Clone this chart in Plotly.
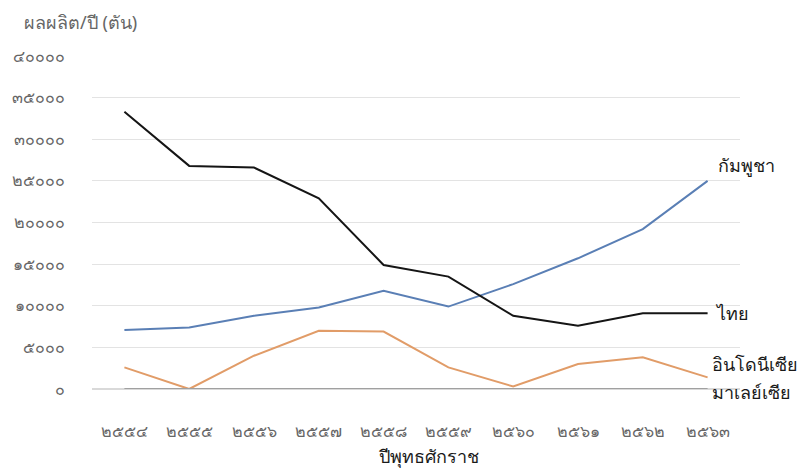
import plotly.graph_objects as go

years = ["๒๕๕๔", "๒๕๕๕", "๒๕๕๖", "๒๕๕๗", "๒๕๕๘", "๒๕๕๙", "๒๕๖๐", "๒๕๖๑", "๒๕๖๒", "๒๕๖๓"]
cambodia = [7100, 7400, 8800, 9800, 11800, 9900, 12600, 15700, 19200, 25000]
thailand = [33300, 26800, 26600, 22900, 14900, 13500, 8800, 7600, 9100, 9100]
indonesia = [2600, 0, 4000, 7000, 6900, 2600, 300, 3000, 3800, 1400]
malaysia = [0, 0, 0, 0, 0, 0, 0, 0, 0, 0]
series_names = ["กัมพูชา", "ไทย", "อินโดนีเซีย", "มาเลย์เซีย"]
y_ticks = [0, 5000, 10000, 15000, 20000, 25000, 30000, 35000, 40000]
y_ticktext = ["๐", "๕๐๐๐", "๑๐๐๐๐", "๑๕๐๐๐", "๒๐๐๐๐", "๒๕๐๐๐", "๓๐๐๐๐", "๓๕๐๐๐", "๔๐๐๐๐"]

colors = ["#5a7fb5", "#151515", "#e19c68", "#a0a0a0"]
data = [cambodia, thailand, indonesia, malaysia]

fig = go.Figure()
for name, vals, c in zip(series_names, data, colors):
    fig.add_trace(go.Scatter(x=years, y=vals, mode="lines", name=name,
                             line=dict(color=c, width=2), showlegend=False))

label_font = dict(family="Noto Sans, DejaVu Sans, sans-serif", size=18, color="#1a1a1a")
# end labels
fig.add_annotation(x=years[-1], y=cambodia[-1], text=series_names[0], showarrow=False,
                   xanchor="left", yanchor="middle", xshift=8, yshift=16, font=label_font)
fig.add_annotation(x=years[-1], y=thailand[-1], text=series_names[1], showarrow=False,
                   xanchor="left", yanchor="middle", xshift=5, font=label_font)
fig.add_annotation(x=years[-1], y=indonesia[-1], text=series_names[2], showarrow=False,
                   xanchor="left", yanchor="middle", xshift=2, yshift=13, font=label_font)
fig.add_annotation(x=years[-1], y=malaysia[-1], text=series_names[3], showarrow=False,
                   xanchor="left", yanchor="middle", xshift=2, yshift=-3, font=label_font)

fig.add_annotation(xref="paper", yref="paper", x=-0.108, y=1.06, text="ผลผลิต/ปี (ตัน)",
                   showarrow=False, xanchor="left", yanchor="bottom",
                   font=dict(family="Noto Sans, DejaVu Sans, sans-serif", size=18, color="#666"))

fig.add_annotation(xref="paper", yref="paper", x=0.52, y=-0.2, text="ปีพุทธศักราช",
                   showarrow=False, xanchor="center", yanchor="middle",
                   font=dict(family="Noto Sans, DejaVu Sans, sans-serif", size=18, color="#1a1a1a"))

fig.update_layout(
    width=801, height=471,
    margin=dict(l=90, r=61, t=56, b=82),
    plot_bgcolor="white", paper_bgcolor="white",
    font=dict(family="Noto Sans, DejaVu Sans, sans-serif", color="#666"),
    xaxis=dict(type="category", range=[-0.5, 9.5], showgrid=False, showline=False, zeroline=False,
               tickfont=dict(size=16, color="#666"), ticks="", ticklabelstandoff=31),
    yaxis=dict(range=[0, 40000], tickvals=y_ticks, ticktext=y_ticktext,
               showgrid=True, gridcolor="#e3e3e3", gridwidth=1, zeroline=True,
               zerolinecolor="#d9d9d9", showline=False, ticks="",
               tickfont=dict(size=16, color="#666"), ticklabelstandoff=26),
)

fig.write_html("out.html")
